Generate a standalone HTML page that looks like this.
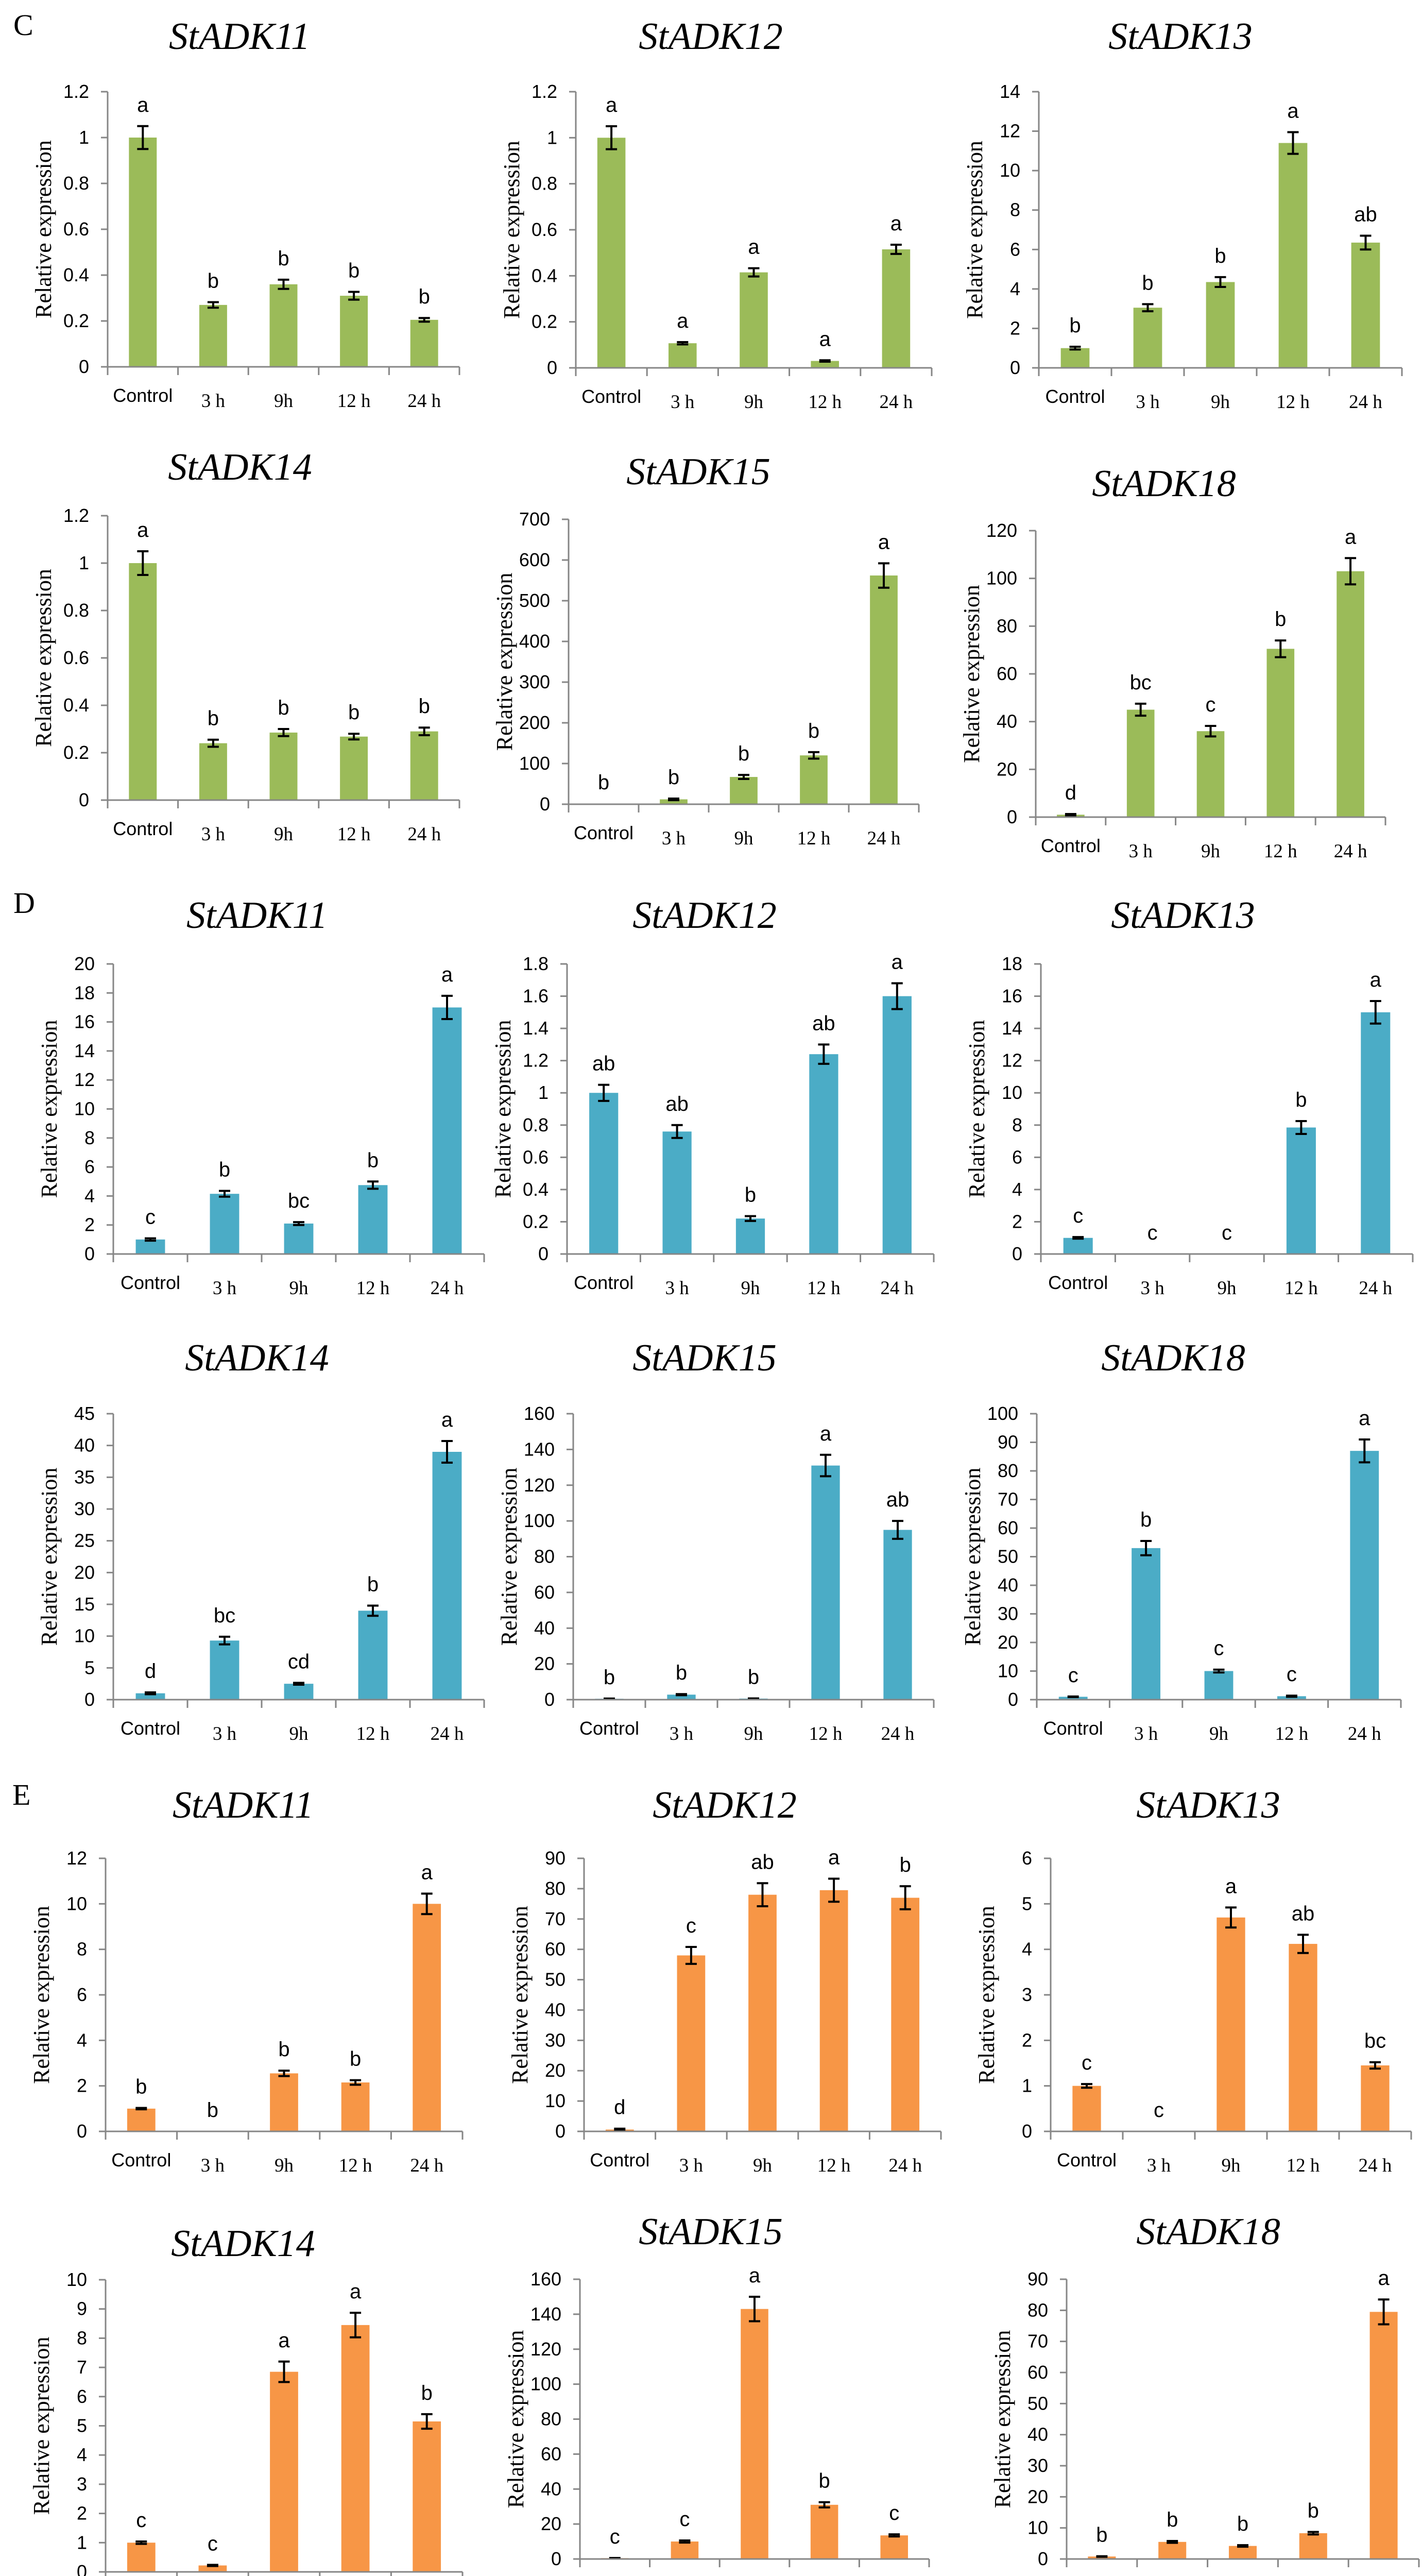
<!DOCTYPE html>
<html><head><meta charset="utf-8">
<style>
html,body{margin:0;padding:0;background:#fff;overflow:hidden;}
svg{display:block;}
.tk{font-family:"Liberation Sans",sans-serif;font-size:36px;fill:#000;}
.yl{font-family:"Liberation Serif",serif;font-size:44px;fill:#000;}
.ti{font-family:"Liberation Serif",serif;font-style:italic;font-size:74px;fill:#000;}
.xl{font-family:"Liberation Serif",serif;font-size:37px;fill:#000;}
.xc{font-family:"Liberation Sans",sans-serif;font-size:36px;fill:#000;}
.sig{font-family:"Liberation Sans",sans-serif;font-size:40px;fill:#000;}
.pl{font-family:"Liberation Serif",serif;font-size:58px;fill:#000;}
</style></head>
<body>
<svg id="fig" width="2761" height="5090" viewBox="0 0 2761 5090" xmlns="http://www.w3.org/2000/svg">
<text class="pl" x="26" y="68">C</text>
<text class="pl" x="26" y="1772">D</text>
<text class="pl" x="24" y="3503">E</text>
</svg>
<script>
const categories=["Control","3 h","9h","12 h","24 h"];
// Panel C (green)
const c11Values=[1,0.27,0.36,0.31,0.205];const c11Err=[0.05,0.012,0.02,0.017,0.008];const c11Sig=["a","b","b","b","b"];const c11Ticks=[0,0.2,0.4,0.6,0.8,1,1.2];
const c12Values=[1,0.107,0.415,0.03,0.515];const c12Err=[0.05,0.005,0.018,0.003,0.02];const c12Sig=["a","a","a","a","a"];const c12Ticks=[0,0.2,0.4,0.6,0.8,1,1.2];
const c13Values=[1,3.05,4.35,11.4,6.35];const c13Err=[0.07,0.18,0.25,0.55,0.35];const c13Sig=["b","b","b","a","ab"];const c13Ticks=[0,2,4,6,8,10,12,14];
const c14Values=[1,0.24,0.285,0.268,0.29];const c14Err=[0.05,0.015,0.015,0.012,0.016];const c14Sig=["a","b","b","b","b"];const c14Ticks=[0,0.2,0.4,0.6,0.8,1,1.2];
const c15Values=[1,12,67,120,562];const c15Err=[0,2,5,8,30];const c15Sig=["b","b","b","b","a"];const c15Ticks=[0,100,200,300,400,500,600,700];
const c18Values=[1,45,36,70.5,103];const c18Err=[0.3,2.5,2.2,3.5,5.5];const c18Sig=["d","bc","c","b","a"];const c18Ticks=[0,20,40,60,80,100,120];
// Panel D (blue)
const d11Values=[1,4.15,2.1,4.75,17];const d11Err=[0.08,0.2,0.1,0.25,0.8];const d11Sig=["c","b","bc","b","a"];const d11Ticks=[0,2,4,6,8,10,12,14,16,18,20];
const d12Values=[1,0.76,0.22,1.24,1.6];const d12Err=[0.05,0.04,0.015,0.06,0.08];const d12Sig=["ab","ab","b","ab","a"];const d12Ticks=[0,0.2,0.4,0.6,0.8,1,1.2,1.4,1.6,1.8];
const d13Values=[1,0,0,7.85,15];const d13Err=[0.05,0,0,0.4,0.7];const d13Sig=["c","c","c","b","a"];const d13Ticks=[0,2,4,6,8,10,12,14,16,18];
const d14Values=[1,9.3,2.5,14,39];const d14Err=[0.15,0.6,0.15,0.8,1.7];const d14Sig=["d","bc","cd","b","a"];const d14Ticks=[0,5,10,15,20,25,30,35,40,45];
const d15Values=[0.5,2.8,0.6,131,95];const d15Err=[0.1,0.3,0.1,6,5];const d15Sig=["b","b","b","a","ab"];const d15Ticks=[0,20,40,60,80,100,120,140,160];
const d18Values=[1,53,10,1.2,87];const d18Err=[0.1,2.5,0.5,0.2,4];const d18Sig=["c","b","c","c","a"];const d18Ticks=[0,10,20,30,40,50,60,70,80,90,100];
// Panel E (orange)
const e11Values=[1,0,2.55,2.15,10];const e11Err=[0.03,0,0.12,0.1,0.45];const e11Sig=["b","b","b","b","a"];const e11Ticks=[0,2,4,6,8,10,12];
const e12Values=[0.6,58,78,79.5,77];const e12Err=[0.3,2.8,3.8,3.8,3.8];const e12Sig=["d","c","ab","a","b"];const e12Ticks=[0,10,20,30,40,50,60,70,80,90];
const e13Values=[1,0,4.7,4.12,1.45];const e13Err=[0.04,0,0.22,0.2,0.07];const e13Sig=["c","c","a","ab","bc"];const e13Ticks=[0,1,2,3,4,5,6];
const e14Values=[1,0.22,6.85,8.45,5.15];const e14Err=[0.04,0.02,0.35,0.42,0.25];const e14Sig=["c","c","a","a","b"];const e14Ticks=[0,1,2,3,4,5,6,7,8,9,10];
const e15Values=[0.5,10,143,31,13.5];const e15Err=[0.1,0.6,7,1.5,0.6];const e15Sig=["c","c","a","b","c"];const e15Ticks=[0,20,40,60,80,100,120,140,160];
const e18Values=[0.8,5.5,4.2,8.3,79.5];const e18Err=[0.1,0.3,0.25,0.4,4];const e18Sig=["b","b","b","b","a"];const e18Ticks=[0,10,20,30,40,50,60,70,80,90];

const GREEN="#9BBB59",BLUE="#4BACC6",ORANGE="#F79646";
const panels=[
 {id:"c-stadk11",title:"StADK11",v:c11Values,e:c11Err,s:c11Sig,t:c11Ticks,col:GREEN,x0:209,x1:892,y0:712,yt:178,tx:465,ty:95},
 {id:"c-stadk12",title:"StADK12",v:c12Values,e:c12Err,s:c12Sig,t:c12Ticks,col:GREEN,x0:1118,x1:1809,y0:714,yt:178,tx:1380,ty:95},
 {id:"c-stadk13",title:"StADK13",v:c13Values,e:c13Err,s:c13Sig,t:c13Ticks,col:GREEN,x0:2017,x1:2722,y0:714,yt:178,tx:2292,ty:95},
 {id:"c-stadk14",title:"StADK14",v:c14Values,e:c14Err,s:c14Sig,t:c14Ticks,col:GREEN,x0:209,x1:892,y0:1553,yt:1001,tx:466,ty:931},
 {id:"c-stadk15",title:"StADK15",v:c15Values,e:c15Err,s:c15Sig,t:c15Ticks,col:GREEN,x0:1104,x1:1784,y0:1561,yt:1008,tx:1356,ty:940},
 {id:"c-stadk18",title:"StADK18",v:c18Values,e:c18Err,s:c18Sig,t:c18Ticks,col:GREEN,x0:2011,x1:2690,y0:1586,yt:1030,tx:2260,ty:963},
 {id:"d-stadk11",title:"StADK11",v:d11Values,e:d11Err,s:d11Sig,t:d11Ticks,col:BLUE,x0:220,x1:940,y0:2434,yt:1871,tx:499,ty:1801},
 {id:"d-stadk12",title:"StADK12",v:d12Values,e:d12Err,s:d12Sig,t:d12Ticks,col:BLUE,x0:1101,x1:1813,y0:2434,yt:1871,tx:1368,ty:1801},
 {id:"d-stadk13",title:"StADK13",v:d13Values,e:d13Err,s:d13Sig,t:d13Ticks,col:BLUE,x0:2021,x1:2743,y0:2434,yt:1871,tx:2297,ty:1801},
 {id:"d-stadk14",title:"StADK14",v:d14Values,e:d14Err,s:d14Sig,t:d14Ticks,col:BLUE,x0:220,x1:940,y0:3299,yt:2744,tx:499,ty:2660},
 {id:"d-stadk15",title:"StADK15",v:d15Values,e:d15Err,s:d15Sig,t:d15Ticks,col:BLUE,x0:1113,x1:1813,y0:3299,yt:2744,tx:1368,ty:2660},
 {id:"d-stadk18",title:"StADK18",v:d18Values,e:d18Err,s:d18Sig,t:d18Ticks,col:BLUE,x0:2013,x1:2720,y0:3299,yt:2744,tx:2278,ty:2660},
 {id:"e-stadk11",title:"StADK11",v:e11Values,e:e11Err,s:e11Sig,t:e11Ticks,col:ORANGE,x0:205,x1:898,y0:4137,yt:3607,tx:472,ty:3528},
 {id:"e-stadk12",title:"StADK12",v:e12Values,e:e12Err,s:e12Sig,t:e12Ticks,col:ORANGE,x0:1134,x1:1827,y0:4137,yt:3607,tx:1407,ty:3528},
 {id:"e-stadk13",title:"StADK13",v:e13Values,e:e13Err,s:e13Sig,t:e13Ticks,col:ORANGE,x0:2040,x1:2740,y0:4137,yt:3607,tx:2346,ty:3528},
 {id:"e-stadk14",title:"StADK14",v:e14Values,e:e14Err,s:e14Sig,t:e14Ticks,col:ORANGE,x0:205,x1:898,y0:4992,yt:4425,tx:472,ty:4379},
 {id:"e-stadk15",title:"StADK15",v:e15Values,e:e15Err,s:e15Sig,t:e15Ticks,col:ORANGE,x0:1126,x1:1804,y0:4967,yt:4424,tx:1380,ty:4356},
 {id:"e-stadk18",title:"StADK18",v:e18Values,e:e18Err,s:e18Sig,t:e18Ticks,col:ORANGE,x0:2071,x1:2755,y0:4967,yt:4424,tx:2346,ty:4356}
];
const NS="http://www.w3.org/2000/svg";
const svg=document.getElementById("fig");
function mk(tag,attrs,parent,text){const el=document.createElementNS(NS,tag);for(const k in attrs)el.setAttribute(k,attrs[k]);if(text!==undefined)el.textContent=text;parent.appendChild(el);return el;}
function fmt(v){return String(Math.round(v*100)/100);}
panels.forEach(p=>{
  const g=mk("g",{},svg);
  
  
  const tmax=p.t[p.t.length-1];
  const yS=v=>p.y0-(v/tmax)*(p.y0-p.yt);
  const cw=(p.x1-p.x0)/categories.length;
  const xS=i=>p.x0+cw*(i+0.5);
  const bw=cw*0.395;
  const title=mk("text",{class:"ti","text-anchor":"middle",x:p.tx,y:p.ty},g,p.title);
  
  
  const yl=mk("text",{class:"yl","text-anchor":"middle",transform:`translate(${p.x0-110},${(p.y0+p.yt)/2}) rotate(-90)`},g,"Relative expression");
  
  
  p.t.forEach(t=>{
    const y=yS(t);
    mk("line",{x1:p.x0-13,x2:p.x0,y1:y,y2:y,stroke:"#868686","stroke-width":3},g);
    const tl=mk("text",{class:"tk","text-anchor":"end",x:p.x0-36,y:y+12},g,fmt(t));
    
    
  });
  p.v.forEach((v,i)=>{
    const cx=xS(i),top=yS(v);
    const bar=mk("rect",{x:cx-bw/2,y:top,width:bw,height:Math.max(0,p.y0-top),fill:p.col},g);
    
    
    let hi=top;
    if(p.e[i]>0){
      const ya=yS(v+p.e[i]),yb=yS(v-p.e[i]);
      const eb=mk("path",{d:`M${cx},${ya}V${yb}M${cx-11},${ya}H${cx+11}M${cx-11},${yb}H${cx+11}`,stroke:"#000","stroke-width":4,fill:"none"},g);
      
      
      hi=ya;
    }
    const sl=mk("text",{class:"sig","text-anchor":"middle",x:cx,y:hi-28},g,p.s[i]);
    
    
    const isC=i===0;
    const xl=mk("text",{class:isC?"xc":"xl","text-anchor":"middle",x:cx,y:p.y0+(isC?68:78)},g,categories[i]);
    
    
  });
  for(let i=0;i<=categories.length;i++){
    const x=p.x0+cw*i;
    mk("line",{x1:x,x2:x,y1:p.y0,y2:p.y0+16,stroke:"#868686","stroke-width":3},g);
  }
  const ax=mk("path",{d:`M${p.x0},${p.yt}V${p.y0}H${p.x1}`,stroke:"#868686","stroke-width":3,fill:"none"},g);
  
  
});
</script>
</body></html>
